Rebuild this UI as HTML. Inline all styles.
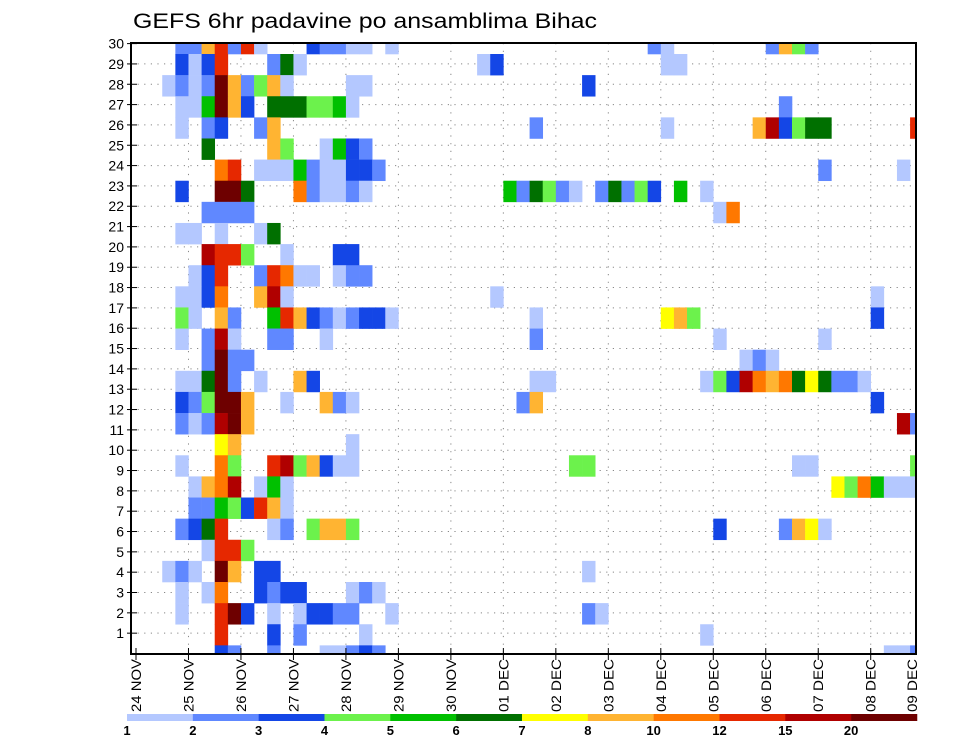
<!DOCTYPE html>
<html><head><meta charset="utf-8"><style>
html,body{margin:0;padding:0;background:#fff;}
svg{display:block;font-family:"Liberation Sans",sans-serif;}
</style></head><body>
<svg id="chart" width="960" height="742" viewBox="0 0 960 742" xmlns="http://www.w3.org/2000/svg">
<text x="133" y="28" font-size="21" textLength="464" lengthAdjust="spacingAndGlyphs">GEFS 6hr padavine po ansamblima Bihac</text>
<defs><clipPath id="plotclip"><rect x="131" y="43" width="785" height="611"/></clipPath></defs>
<g id="grid"></g>
<g id="cells" clip-path="url(#plotclip)"></g>
<rect x="131" y="43" width="785" height="611" fill="none" stroke="#000" stroke-width="2"/>
<g id="yaxis"></g>
<g id="xaxis"></g>
<g id="colorbar"></g>
</svg>
<script>
// Day labels (x categories, one per day; 4 six-hour steps per day)
const dayLabels = ["24 NOV","25 NOV","26 NOV","27 NOV","28 NOV","29 NOV","30 NOV","01 DEC","02 DEC","03 DEC","04 DEC","05 DEC","06 DEC","07 DEC","08 DEC","09 DEC"];
// Member labels on y axis
const memberLabels = [1,2,3,4,5,6,7,8,9,10,11,12,13,14,15,16,17,18,19,20,21,22,23,24,25,26,27,28,29,30];
// Colour level boundaries (legend labels)
const levelLabels = ["1","2","3","4","5","6","7","8","10","12","15","20"];
const levelColors = ["#b4c8ff","#6088ff","#1446e6","#6cf24c","#00c000","#007000","#ffff00","#ffb432","#ff7800","#e62800","#b00000","#6e0000"];
// Heatmap rows from top to bottom: "timeStep:level" pairs
const rowCells = [
"3:2 4:2 5:8 6:10 7:2 8:10 9:1 13:3 14:2 15:2 16:1 17:1 19:1 39:2 40:1 48:2 49:8 50:4 51:2",
"3:3 4:1 5:3 6:10 10:2 11:6 12:1 26:1 27:3 40:1 41:1",
"2:1 3:2 4:1 5:2 6:12 7:8 8:2 9:4 10:8 11:1 16:1 17:1 34:3",
"3:1 4:1 5:5 6:12 7:8 8:3 10:6 11:6 12:6 13:4 14:4 15:5 16:1 49:2",
"3:1 5:2 6:3 9:2 10:8 30:2 40:1 47:8 48:11 49:3 50:4 51:6 52:6 59:10",
"5:6 10:8 11:4 14:1 15:5 16:3 17:2",
"6:9 7:10 9:1 10:1 11:1 12:5 13:2 14:1 15:1 16:3 17:3 18:2 52:2 58:1",
"3:3 6:12 7:12 8:6 12:9 13:2 14:1 15:1 16:2 17:1 28:5 29:2 30:6 31:4 32:2 33:1 35:2 36:6 37:2 38:4 39:3 41:5 43:1",
"5:2 6:2 7:2 8:2 44:1 45:9",
"3:1 4:1 6:1 9:1 10:6",
"5:11 6:10 7:10 8:4 11:1 15:3 16:3",
"4:1 5:3 6:10 9:2 10:10 11:9 12:1 13:1 15:1 16:2 17:2",
"3:1 4:1 5:3 6:9 9:8 10:11 11:1 27:1 56:1",
"3:4 4:1 6:8 7:2 10:5 11:10 12:8 13:3 14:2 15:1 16:2 17:3 18:3 19:1 30:1 40:7 41:8 42:4 56:3",
"3:1 5:2 6:11 7:1 10:2 11:2 14:1 30:2 44:1 52:1",
"5:2 6:12 7:2 8:2 46:1 47:2 48:1",
"3:1 4:1 5:6 6:12 7:2 9:1 12:8 13:3 30:1 31:1 43:1 44:4 45:3 46:11 47:9 48:8 49:9 50:6 51:7 52:6 53:2 54:2 55:1",
"3:3 4:2 5:4 6:12 7:12 8:8 11:1 14:8 15:2 16:1 29:2 30:8 56:3",
"3:2 4:1 5:2 6:11 7:12 8:8 58:11 59:2",
"6:7 7:8 16:1",
"3:1 6:9 7:4 10:10 11:11 12:4 13:8 14:3 15:1 16:1 33:4 34:4 50:1 51:1 59:4",
"4:1 5:8 6:9 7:11 9:1 10:5 11:1 53:7 54:4 55:9 56:5 57:1 58:1 59:1",
"4:2 5:2 6:5 7:4 8:3 9:10 10:8 11:1",
"3:2 4:3 5:6 6:10 10:1 11:2 13:4 14:8 15:8 16:4 44:3 49:2 50:8 51:7 52:1",
"5:1 6:10 7:10 8:4",
"2:1 3:2 4:1 6:12 7:8 9:3 10:3 34:1",
"3:1 5:1 6:9 9:3 10:2 11:3 12:3 16:1 17:2 18:1",
"3:1 6:10 7:12 8:3 10:1 12:1 13:3 14:3 15:2 16:2 19:1 34:2 35:1",
"6:10 10:3 12:2 17:1 43:1",
"6:3 7:2 10:2 14:1 15:1 16:2 17:3 18:2 57:1 58:1 59:2"
];

const NS = "http://www.w3.org/2000/svg";
const stepW = 13.12, x0 = 136, dayW = stepW * 4;
const cellH = 21.12, cellTop0 = 54;
function xStep(k){ return x0 + k * stepW; }
function xDay(d){ return x0 + d * dayW; }
function yRowTop(j){ return cellTop0 + (j - 1) * cellH; }
function yMember(m){ return 653.5 - 20.33 * m; }
function mk(tag, attrs, parent){ const e=document.createElementNS(NS,tag); for(const k in attrs) e.setAttribute(k,attrs[k]); parent.appendChild(e); return e; }

const grid = document.getElementById('grid');
memberLabels.forEach(m => {
  if (m >= 30) return;
  const l = mk('line', {x1:131, x2:916, y1:yMember(m), y2:yMember(m), stroke:'#888', 'stroke-width':1, 'stroke-dasharray':'1.2,5.4'}, grid);
  
  
});
dayLabels.forEach((d, i) => {
  const x = xDay(i);
  if (i === 0 || x > 915) return;
  const l = mk('line', {x1:x, x2:x, y1:43, y2:654, stroke:'#888', 'stroke-width':1, 'stroke-dasharray':'1.2,6.5'}, grid);
  
  
});

const cells = document.getElementById('cells');
rowCells.forEach((row, j) => {
  row.split(' ').forEach(p => {
    const [k, lv] = p.split(':').map(Number);
    const r = mk('rect', {x: xStep(k), y: yRowTop(j), width: stepW + 0.3, height: cellH + 0.3, fill: levelColors[lv - 1]}, cells);
    
    
  });
});

const ya = document.getElementById('yaxis');
memberLabels.forEach(m => {
  const y = yMember(m);
  const t = mk('line', {x1:127, x2:137, y1:y, y2:y, stroke:'#000', 'stroke-width':1}, ya);
  
  
  const tx = mk('text', {x:124, y:y + 5, 'font-size':14, 'text-anchor':'end'}, ya);
  tx.textContent = m;
  
  
});

const xa = document.getElementById('xaxis');
dayLabels.forEach((d, i) => {
  const x = xDay(i);
  if (x <= 916) {
    const t = mk('line', {x1:x, x2:x, y1:648, y2:660, stroke:'#000', 'stroke-width':1}, xa);
    
    
  }
  const lx = Math.min(x, 912) + 5;
  const tx = mk('text', {x:lx, y:659, 'font-size':14, 'text-anchor':'end', transform:'rotate(-90 ' + lx + ' 659)', textLength:53, lengthAdjust:'spacingAndGlyphs'}, xa);
  tx.textContent = d;
  
  
});

const cb = document.getElementById('colorbar');
const cbX = 127, cbW = 65.83;
levelColors.forEach((c, i) => {
  const r = mk('rect', {x: cbX + i * cbW, y: 714, width: cbW + 0.3, height: 7, fill: c}, cb);
  
  
});
levelLabels.forEach((s, i) => {
  const t = mk('text', {x: cbX + i * cbW, y: 735, 'font-size':13, 'font-weight':'bold', 'text-anchor':'middle'}, cb);
  t.textContent = s;
  
  
});
</script>
</body></html>
